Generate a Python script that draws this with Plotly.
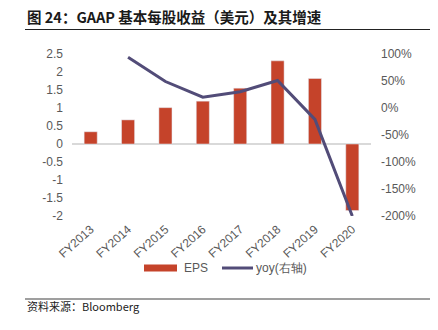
import plotly.graph_objects as go

categories = ["FY2013", "FY2014", "FY2015", "FY2016", "FY2017", "FY2018", "FY2019", "FY2020"]
eps = [0.34, 0.67, 1.01, 1.19, 1.55, 2.31, 1.82, -1.85]
yoy = [None, 0.94, 0.49, 0.20, 0.30, 0.51, -0.21, -2.00]

left_ticks = [2.5, 2, 1.5, 1, 0.5, 0, -0.5, -1, -1.5, -2]
left_labels = ["2.5", "2", "1.5", "1", "0.5", "0", "-0.5", "-1", "-1.5", "-2"]
right_ticks = [1.0, 0.5, 0.0, -0.5, -1.0, -1.5, -2.0]
right_labels = ["100%", "50%", "0%", "-50%", "-100%", "-150%", "-200%"]

BAR = "#C5432A"
LINE = "#524C78"
TXT = "#595959"
FONT = "Liberation Sans, Arial, sans-serif"
CJK = "Noto Sans CJK SC"

fig = go.Figure()
fig.add_trace(go.Bar(x=categories, y=eps, name="EPS", marker_color=BAR,
                     width=0.35, yaxis="y", showlegend=False))
fig.add_trace(go.Scatter(x=categories, y=yoy, name="yoy(右轴)", mode="lines",
                         line=dict(color=LINE, width=3), yaxis="y2",
                         showlegend=False, connectgaps=False))

fig.update_layout(
    width=438, height=330,
    margin=dict(l=72, r=67, t=54, b=114),
    paper_bgcolor="white", plot_bgcolor="white",
    font=dict(family=FONT, size=12, color=TXT),
    xaxis=dict(type="category", tickangle=-42, showgrid=False, showline=False,
               ticks="", ticklabelstandoff=3,
               tickfont=dict(size=12, color=TXT, family=FONT)),
    yaxis=dict(range=[-2, 2.5], tickvals=left_ticks, ticktext=left_labels,
               showgrid=False, zeroline=True, zerolinecolor="#D9D9D9",
               zerolinewidth=1.5, showline=False, ticks="", ticklabelstandoff=8,
               tickfont=dict(size=12, color=TXT, family=FONT)),
    yaxis2=dict(range=[-2, 1], overlaying="y", side="right",
                tickvals=right_ticks, ticktext=right_labels,
                showgrid=False, zeroline=False, showline=False, ticks="",
                ticklabelstandoff=9,
                tickfont=dict(size=12, color=TXT, family=FONT)),
    bargap=0.65,
)

# title, separators, footer
fig.add_annotation(text="<b>图 24：GAAP 基本每股收益（美元）及其增速</b>",
                   xref="paper", yref="paper", x=(25 - 72) / 299, y=1 + (54 - 16) / 162,
                   xanchor="left", yanchor="middle", showarrow=False,
                   font=dict(family=CJK, size=14.5, color="#1a1a1a"))
fig.add_shape(type="line", xref="paper", yref="paper",
              x0=(25 - 72) / 299, x1=(430 - 72) / 299,
              y0=1 + (54 - 29.5) / 162, y1=1 + (54 - 29.5) / 162,
              line=dict(color="#222222", width=1))
fig.add_shape(type="line", xref="paper", yref="paper",
              x0=(25 - 72) / 299, x1=(430 - 72) / 299,
              y0=(216 - 299) / 162, y1=(216 - 299) / 162,
              line=dict(color="#7f7f7f", width=1.5))
fig.add_annotation(text="资料来源：Bloomberg", xref="paper", yref="paper",
                   x=(25 - 72) / 299, y=(216 - 306) / 162,
                   xanchor="left", yanchor="middle", showarrow=False,
                   font=dict(family=CJK, size=11, color="#222222"))

# custom legend
ly = (216 - 268) / 162
fig.add_shape(type="rect", xref="paper", yref="paper",
              x0=(144 - 72) / 299, x1=(177 - 72) / 299,
              y0=ly - 3.5 / 162, y1=ly + 3.5 / 162,
              fillcolor=BAR, line=dict(width=0))
fig.add_annotation(text="EPS", xref="paper", yref="paper", x=(182 - 72) / 299, y=ly,
                   xanchor="left", yanchor="middle", showarrow=False,
                   font=dict(family=FONT, size=12, color=TXT))
fig.add_shape(type="line", xref="paper", yref="paper",
              x0=(222 - 72) / 299, x1=(253 - 72) / 299, y0=ly, y1=ly,
              line=dict(color=LINE, width=3))
fig.add_annotation(text="yoy(右轴)", xref="paper", yref="paper", x=(254 - 72) / 299, y=ly,
                   xanchor="left", yanchor="middle", showarrow=False,
                   font=dict(family=FONT, size=12, color=TXT))

fig.write_html("out.html")
